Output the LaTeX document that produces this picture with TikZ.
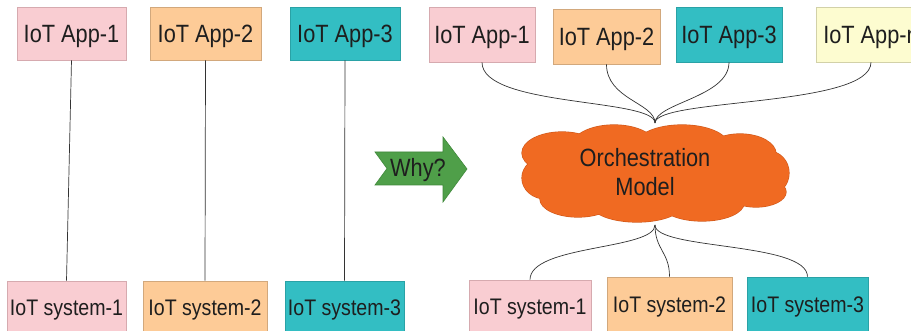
\documentclass[tikz,border=0pt]{standalone}
\usepackage{fontspec}
\setmainfont[FakeStretch=0.87]{Liberation Sans}

\definecolor{txt}{HTML}{1E1E1E}
\definecolor{linkcol}{HTML}{333333}
\definecolor{pinkfill}{HTML}{F9CDD2}
\definecolor{pinkline}{HTML}{D6AAAF}
\definecolor{orangefill}{HTML}{FDCB97}
\definecolor{orangeline}{HTML}{D2A87C}
\definecolor{tealfill}{HTML}{33BEC3}
\definecolor{tealline}{HTML}{2AA2A6}
\definecolor{yellowfill}{HTML}{FDFCD0}
\definecolor{yellowline}{HTML}{D2D1A8}
\definecolor{cloudfill}{HTML}{F06A22}
\definecolor{cloudline}{HTML}{D0581A}
\definecolor{arrowfill}{HTML}{4F9F49}
\definecolor{arrowline}{HTML}{3F883A}

\tikzset{
  boxbase/.style={rectangle, line width=0.6pt, inner sep=0pt, text=txt, text depth=0pt},
  appbox/.style={boxbase, font=\fontsize{25}{28}\selectfont, text height=17.9pt, minimum height=53pt},
  sysbox/.style={boxbase, font=\fontsize{22.5}{26}\selectfont, text height=16.1pt},
  pinkbox/.style={fill=pinkfill, draw=pinkline},
  orangebox/.style={fill=orangefill, draw=orangeline},
  tealbox/.style={fill=tealfill, draw=tealline},
  yellowbox/.style={fill=yellowfill, draw=yellowline},
  link/.style={draw=linkcol, line width=0.7pt},
  label/.style={text=txt, font=\fontsize{25}{29}\selectfont, inner sep=0pt}
}

% puffs of the orchestration cloud: centre x, centre y, x radius, y radius
\newcommand{\cloudpuffs}[1]{%
  \foreach \cx/\cy/\rx/\ry in {656/175/112/36, 562/153/40/21, 614/146/42/21,
      682/145/46/20, 740/154/36/20, 768/173/21/22, 546/178/24/21,
      578/199/38/18, 637/204/46/18, 702/203/42/18, 756/192/30/15}
    {#1 (\cx,\cy) ellipse [x radius=\rx, y radius=\ry];}}

\begin{document}
\begin{tikzpicture}[x=1pt, y=-1pt]
\useasboundingbox[fill=white] (0,0) rectangle (911,331);

% ---- one system per application ----
\node[appbox, pinkbox,   minimum width=109pt] (la1) at (71.5,33.5) {IoT App-1};
\node[appbox, orangebox, minimum width=111pt] (la2) at (205.5,33.5) {IoT App-2};
\node[appbox, tealbox,   minimum width=110pt] (la3) at (345,33.5) {IoT App-3};

\node[sysbox, pinkbox,   minimum width=119pt, minimum height=52pt] (ls1) at (66.5,307) {IoT system-1};
\node[sysbox, orangebox, minimum width=124pt, minimum height=52pt] (ls2) at (205,307) {IoT system-2};
\node[sysbox, tealbox,   minimum width=119pt, minimum height=52pt] (ls3) at (344.5,307) {IoT system-3};

\draw[link] (la1.south) -- (ls1.north);
\draw[link] (la2.south) -- (ls2.north);
\draw[link] (la3.south) -- (ls3.north);

% ---- "Why?" arrow ----
\filldraw[fill=arrowfill, draw=arrowline, line width=0.6pt]
  (375,152) -- (443,152) -- (443,137) -- (467,169) -- (443,202)
  -- (443,185) -- (375,185) -- (387,168.5) -- cycle;
\node[label, text height=17.9pt, text depth=0pt] (why) at (418,168) {Why?};

% ---- orchestrated applications and systems ----
\node[appbox, pinkbox,   minimum width=106pt, minimum height=55pt] (ra1) at (482,34.5) {IoT App-1};
\node[appbox, orangebox, minimum width=107pt, minimum height=55pt] (ra2) at (606.5,36.5) {IoT App-2};
\node[appbox, tealbox,   minimum width=106pt, minimum height=55pt] (ra3) at (729,34.5) {IoT App-3};
\node[appbox, yellowbox, minimum width=110pt, minimum height=55pt] (ran) at (871,34.5) {IoT App-n};

% cloud: outline first, then the fill on top leaves only the outer rim
\cloudpuffs{\draw[cloudline, line width=1.2pt]}
\cloudpuffs{\fill[cloudfill]}
\node[label, align=center] (orch) at (645,172) {Orchestration\\Model};

\coordinate (mtop) at (655,123);
\coordinate (mbot) at (655,225);

\draw[link] (ra1.south) .. controls +(0,45) and +(0,-25) .. (mtop);
\draw[link] (ra2.south) .. controls +(0,35) and +(0,-20) .. (mtop);
\draw[link] (ra3.south) .. controls +(0,35) and +(0,-20) .. (mtop);
\draw[link] (ran.south) .. controls +(0,45) and +(0,-25) .. (mtop);

\node[sysbox, pinkbox,   minimum width=122pt, minimum height=52pt] (rs1) at (530,306) {IoT system-1};
\node[sysbox, orangebox, minimum width=125pt, minimum height=54pt] (rs2) at (669.5,304) {IoT system-2};
\node[sysbox, tealbox,   minimum width=121pt, minimum height=54pt] (rs3) at (807.5,304) {IoT system-3};

\draw[link] (mbot) .. controls +(0,25) and +(0,-35) .. (rs1.north);
\draw[link] (mbot) .. controls +(0,25) and +(0,-25) .. (rs2.north);
\draw[link] (mbot) .. controls +(0,25) and +(0,-35) .. (rs3.north);
\end{tikzpicture}
\end{document}
